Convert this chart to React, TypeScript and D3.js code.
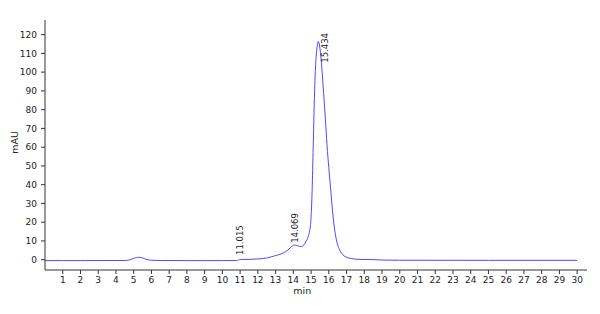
import React from "react";
import * as d3 from "d3";

const times = [0, 1, 2, 3, 4, 4.6, 4.85, 5.05, 5.27, 5.5, 5.75, 6.0, 6.5, 7, 8, 9, 10, 10.8, 10.9, 11.0, 11.2, 11.6, 12.0, 12.5, 13.0, 13.3, 13.55, 13.75, 13.9, 14.05, 14.2, 14.35, 14.48, 14.59, 14.7, 14.84, 14.92, 14.99, 15.06, 15.12, 15.21, 15.29, 15.35, 15.4, 15.46, 15.55, 15.68, 15.8, 15.9, 16.0, 16.1, 16.2, 16.3, 16.43, 16.62, 16.8, 17.0, 17.3, 17.6, 18.0, 18.3, 18.6, 19.0, 20, 25, 30];
const values = [-0.5, -0.5, -0.5, -0.45, -0.45, -0.4, 0.1, 0.9, 1.3, 0.9, 0.1, -0.3, -0.45, -0.45, -0.5, -0.5, -0.5, -0.45, -0.2, 0.1, 0.1, 0.2, 0.4, 0.9, 2.2, 3.0, 4.2, 5.6, 7.0, 7.8, 7.6, 7.1, 7.1, 7.8, 9.5, 12.3, 15.5, 21, 37, 60, 93, 108.6, 114, 116.4, 115, 108.6, 92.6, 76, 61, 49, 38, 27, 18, 10.5, 5, 2.6, 1.3, 0.6, 0.2, 0.1, 0.1, 0, -0.2, -0.3, -0.35, -0.35];

const xTicks = d3.range(1, 31);
const yTicks = [0, 10, 20, 30, 40, 50, 60, 70, 80, 90, 100, 110, 120];

const peakTimes = [11.015, 14.069, 15.434];
const peakLabels = ["11.015", "14.069", "15.434"];
const peakAnchorValues = [2.5, 9.0, 105];
const peakLabelShift = [0, 0, 6];

const W = 600;
const H = 314;

export default function App() {
  const x = d3.scaleLinear().domain([0, 30.5]).range([45, 586]);
  const y = d3.scaleLinear().domain([-5.5, 127.8]).range([270, 20]);
  const pts = times.map((t, i) => [t, values[i]] as [number, number]);
  const line = d3
    .line<[number, number]>()
    .x((d) => x(d[0]))
    .y((d) => y(d[1]))
    .curve(d3.curveMonotoneX);
  const font = "DejaVu Sans, sans-serif";
  const axisColor = "#333";
  const textColor = "#222";
  const [x0, x1] = x.range();
  const [y0, y1] = y.range();
  return (
    <svg
      width={W}
      height={H}
      style={{ position: "absolute", left: 0, top: 0, background: "#fff" }}
      fontFamily={font}
    >
      <rect width={W} height={H} fill="#fff" />
      <path d={line(pts) || ""} fill="none" stroke="#4b4bff" strokeWidth={1} />
      {/* spines */}
      <line x1={x0} x2={x0} y1={y1} y2={y0} stroke={axisColor} strokeWidth={1} />
      <line x1={x0} x2={x1 + 1} y1={y0} y2={y0} stroke={axisColor} strokeWidth={1} />
      {yTicks.map((v) => (
        <g key={"y" + v} transform={`translate(${x0},${y(v)})`}>
          <line x1={-4} x2={0} stroke={axisColor} />
          <text x={-8} dy="0.35em" textAnchor="end" fontSize={9} fill={textColor}>
            {v}
          </text>
        </g>
      ))}
      {xTicks.map((t) => (
        <g key={"x" + t} transform={`translate(${x(t)},${y0})`}>
          <line y1={0} y2={4} stroke={axisColor} />
          <text y={7} dy="0.71em" textAnchor="middle" fontSize={9} fill={textColor}>
            {t}
          </text>
        </g>
      ))}
      <text x={x(14.5)} y={293.5} textAnchor="middle" fontSize={9.5} fill={textColor}>
        min
      </text>
      <text
        transform={`translate(17.7,${(y0 + y1) / 2 - 2.5}) rotate(-90)`}
        textAnchor="middle"
        fontSize={9.5}
        fill={textColor}
      >
        mAU
      </text>
      {peakTimes.map((t, i) => (
        <text
          key={"p" + i}
          transform={`translate(${x(t) + peakLabelShift[i]},${y(peakAnchorValues[i])}) rotate(-90)`}
          dy="0.35em"
          textAnchor="start"
          fontSize={8.5}
          fill={textColor}
        >
          {peakLabels[i]}
        </text>
      ))}
    </svg>
  );
}
